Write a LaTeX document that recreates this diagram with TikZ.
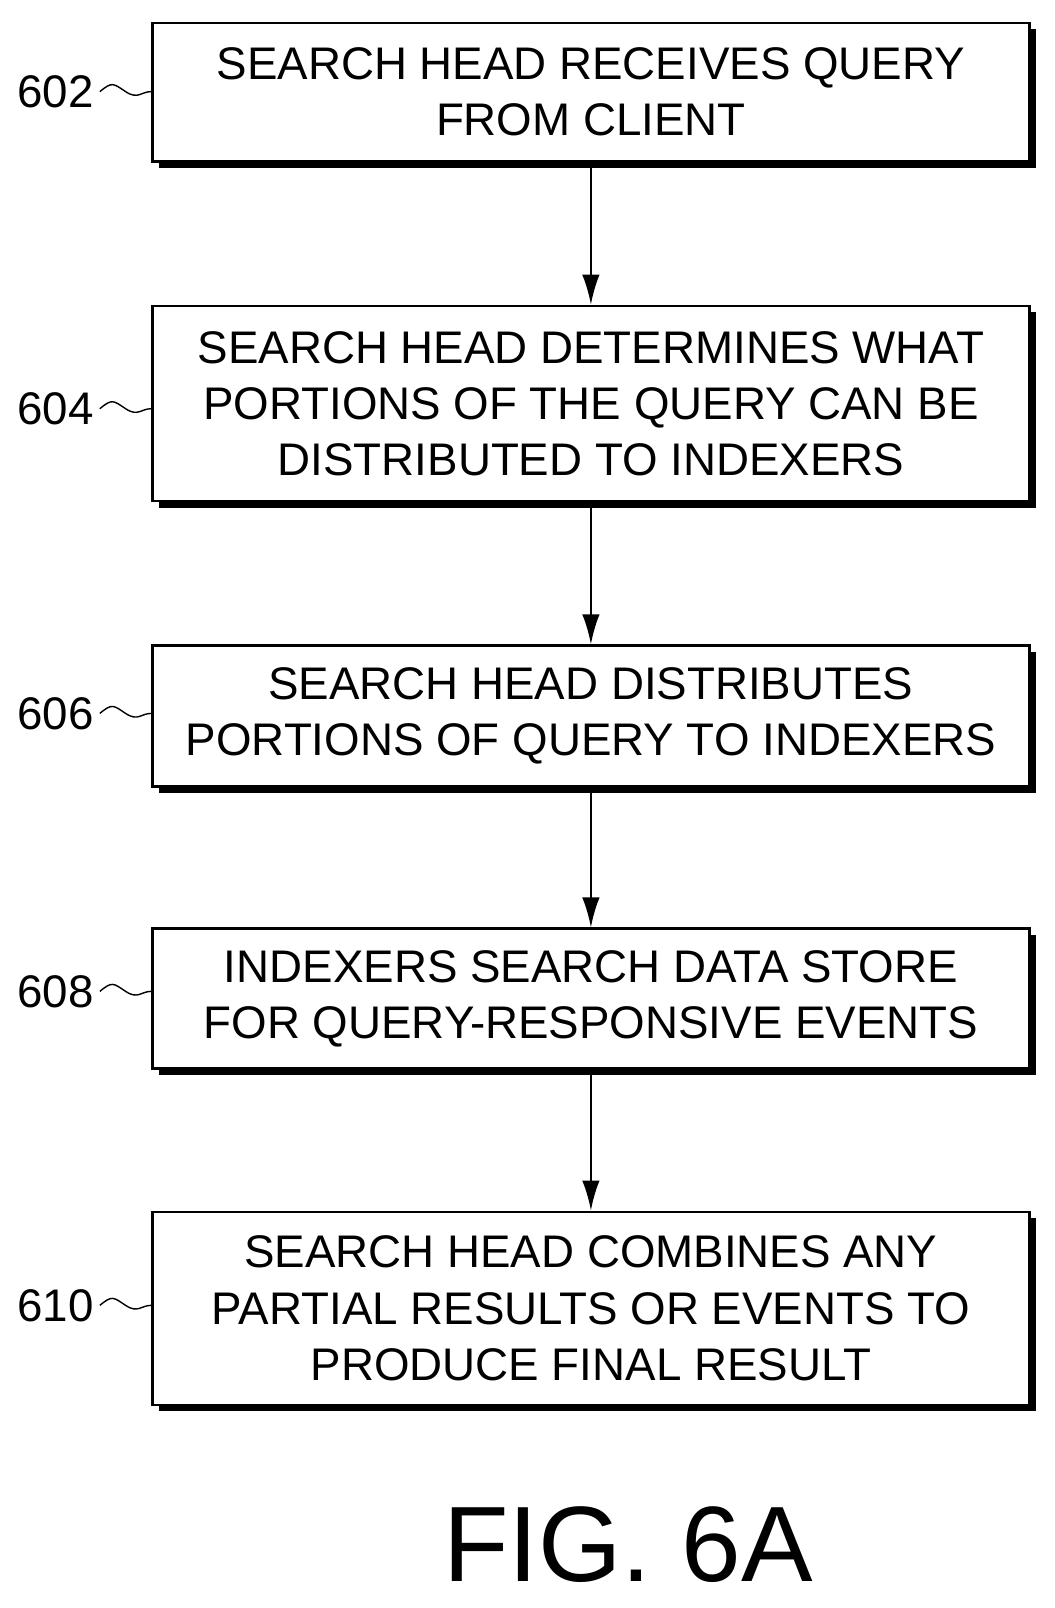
\documentclass[tikz,border=0pt]{standalone}
\usepackage{fontspec}
\setmainfont{Liberation Sans}
\usetikzlibrary{arrows.meta}
\begin{document}
\begin{tikzpicture}[x=0.020586cm,y=-0.020586cm,
  box/.style={draw,line width=1.3pt,fill=white,minimum width=852*0.020586cm,align=center,
    font=\fontsize{26}{32}\selectfont,inner sep=0pt},
  lab/.style={font=\fontsize{26}{30}\selectfont,anchor=east},
  arr/.style={-{Latex[length=0.6cm,width=0.35cm]},line width=1.2pt}]
\useasboundingbox (0,0) rectangle (1024,1562);
\foreach \t/\b in {22/157,297/487,627/764,902/1038,1177/1365}{
  \fill (154,\t+6) rectangle (1006,\b+6);
}
\node[box,minimum height=135*0.020586cm] (a) at (574,89.5) {SEARCH HEAD RECEIVES QUERY\\FROM CLIENT};
\node[box,minimum height=190*0.020586cm] (b) at (574,392) {SEARCH HEAD DETERMINES WHAT\\PORTIONS OF THE QUERY CAN BE\\DISTRIBUTED TO INDEXERS};
\node[box,minimum height=137*0.020586cm] (c) at (574,695.5) {SEARCH HEAD DISTRIBUTES\\PORTIONS OF QUERY TO INDEXERS};
\node[box,minimum height=136*0.020586cm] (d) at (574,970) {INDEXERS SEARCH DATA STORE\\FOR QUERY-RESPONSIVE EVENTS};
\node[box,minimum height=188*0.020586cm] (e) at (574,1271) {SEARCH HEAD COMBINES ANY\\PARTIAL RESULTS OR EVENTS TO\\PRODUCE FINAL RESULT};
\draw[arr] (a.south) -- (b.north);
\draw[arr] (b.south) -- (c.north);
\draw[arr] (c.south) -- (d.north);
\draw[arr] (d.south) -- (e.north);
\foreach \n/\y/\l in {a/89/602,b/397/604,c/693/606,d/963/608,e/1268/610}{
  \node[lab] (l\l) at (97,\y) {\l};
  \draw[line width=0.8pt] (l\l.east) .. controls +(12,-10) and +(-12,-8) .. ++(25,0) .. controls +(12,8) and +(-10,0) .. (\n.west |- l\l.east);
}
\node[font=\fontsize{61}{70}\selectfont] (fig) at (610,1500) {FIG. 6A};
\end{tikzpicture}
\end{document}
